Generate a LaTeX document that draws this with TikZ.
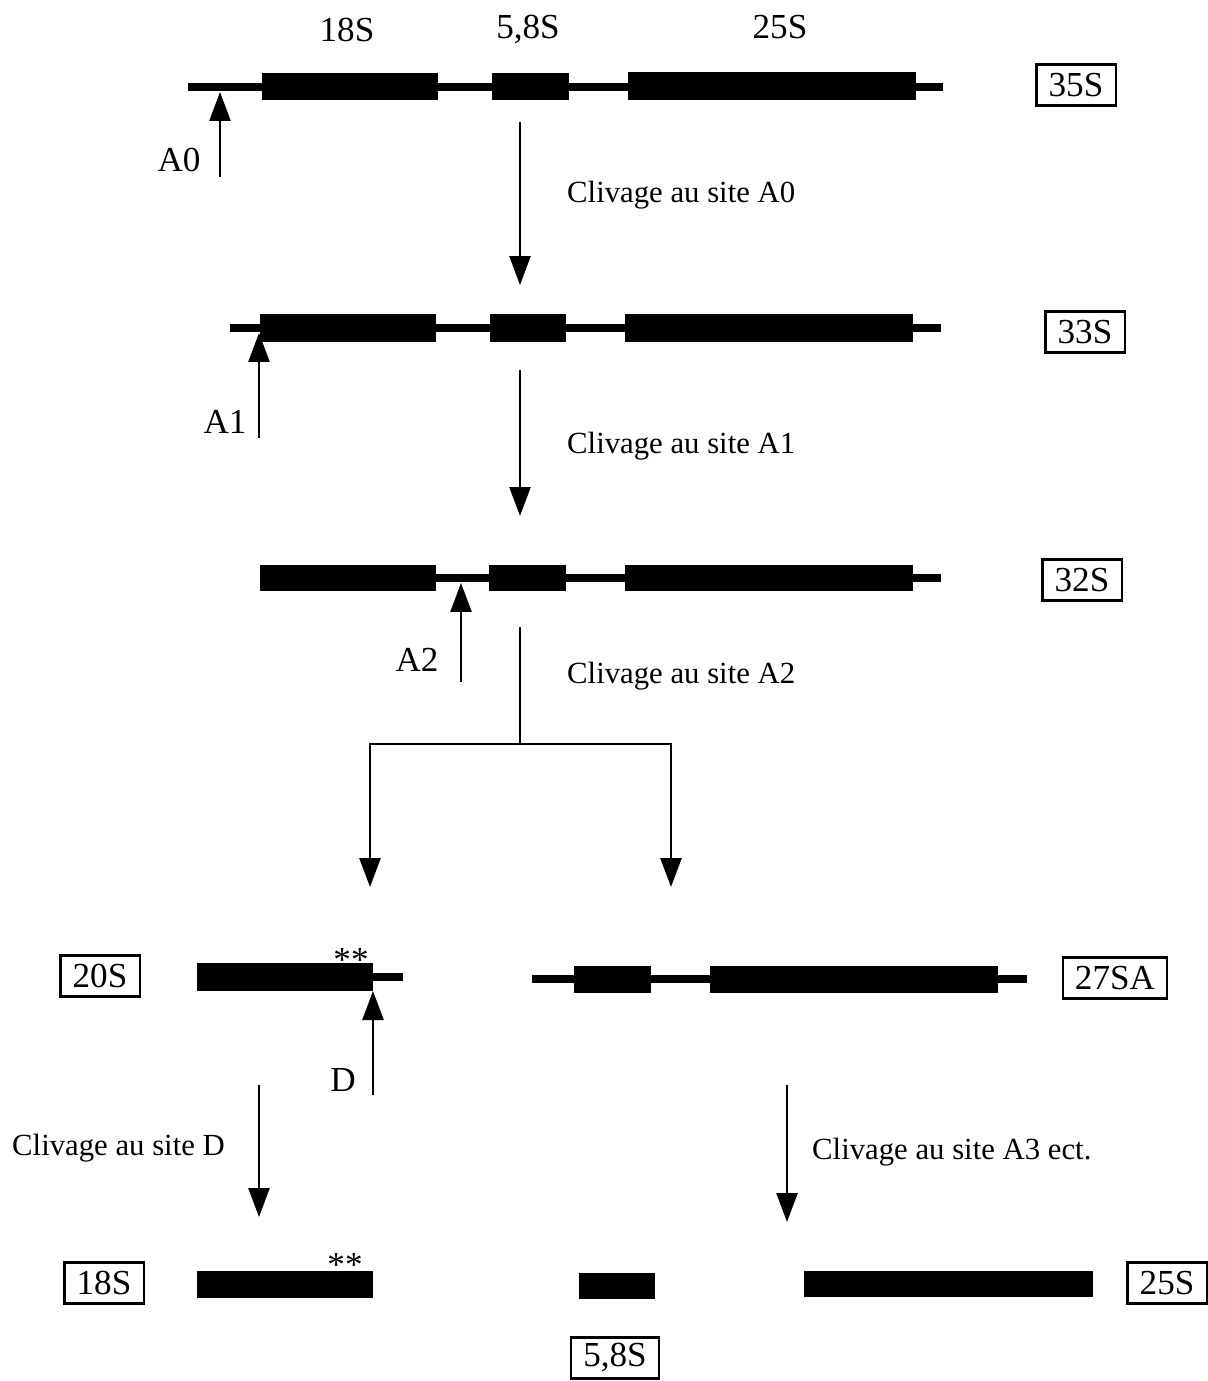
\documentclass[tikz,border=0pt]{standalone}
\usepackage{fontspec}
\setmainfont{Liberation Serif}
\usetikzlibrary{arrows.meta}

\begin{document}
\begin{tikzpicture}[x=0.02cm, y=-0.02cm,
        >={Triangle[length=0.58cm, width=0.42cm]},
        font=\fontsize{20}{24}\selectfont,
        spacer/.style={line width=5pt},
        cut/.style={line width=1.5pt, ->},
        tag/.style={draw, line width=1.3pt, inner xsep=7pt, minimum height=0.82cm},
        steplabel/.style={anchor=west, font=\fontsize{17.5}{21}\selectfont}]
    \useasboundingbox (0,0) rectangle (1207,1381);

    % 35S precursor
    \node (n18) at (347,30) {18S};
    \node (n58) at (528,30) {5,8S};
    \node (n25) at (780,27) {25S};
    \draw[spacer] (188,87) -- (943,87);
    \fill (262,73) rectangle (438,100);
    \fill (492,73) rectangle (569,100);
    \fill (628,72) rectangle (916,100);
    \node[tag] (p35) at (1076,85) {35S};

    \coordinate (A0) at (220,92);
    \coordinate (A0foot) at (220,177);
    \draw[cut] (A0foot) -- (A0);
    \node (A0lab) at (179,160) {A0};

    \coordinate (s1) at (520,122);
    \coordinate (e1) at (520,285);
    \draw[cut] (s1) -- (e1);
    \node[steplabel] (c1) at (561,195) {Clivage au site A0};

    % 33S precursor
    \draw[spacer] (230,328) -- (941,328);
    \fill (260,314) rectangle (436,342);
    \fill (490,314) rectangle (566,342);
    \fill (625,314) rectangle (913,342);
    \node[tag] (p33) at (1085,332) {33S};

    \coordinate (A1) at (259,333);
    \coordinate (A1foot) at (259,438);
    \draw[cut] (A1foot) -- (A1);
    \node (A1lab) at (225,422) {A1};

    \coordinate (s2) at (520,370);
    \coordinate (e2) at (520,516);
    \draw[cut] (s2) -- (e2);
    \node[steplabel] (c2) at (561,446) {Clivage au site A1};

    % 32S precursor
    \draw[spacer] (260,578) -- (941,578);
    \fill (260,565) rectangle (436,591);
    \fill (489,565) rectangle (566,591);
    \fill (625,565) rectangle (913,591);
    \node[tag] (p32) at (1082,580) {32S};

    \coordinate (A2) at (461,583);
    \coordinate (A2foot) at (461,682);
    \draw[cut] (A2foot) -- (A2);
    \node (A2lab) at (417,660) {A2};

    \coordinate (s3) at (520,627);
    \coordinate (fork) at (520,744);
    \coordinate (forkL) at (370,744);
    \coordinate (forkR) at (671,744);
    \coordinate (eL) at (370,887);
    \coordinate (eR) at (671,887);
    \draw[line width=1.5pt] (s3) -- (fork);
    \draw[cut] (fork) -- (forkL) -- (eL);
    \draw[cut] (fork) -- (forkR) -- (eR);
    \node[steplabel] (c3) at (561,676) {Clivage au site A2};

    % 20S and 27SA
    \node[tag] (p20) at (100,976) {20S};
    \draw[spacer] (373,977) -- (403,977);
    \fill (197,963) rectangle (373,991);
    \node (st20) at (351,960) {**};

    \coordinate (D) at (373,991);
    \coordinate (Dfoot) at (373,1095);
    \draw[cut] (Dfoot) -- (D);
    \node (Dlab) at (343,1080) {D};

    \draw[spacer] (532,979) -- (1027,979);
    \fill (574,966) rectangle (651,993);
    \fill (710,966) rectangle (998,993);
    \node[tag] (p27) at (1115,978) {27SA};

    \coordinate (s4) at (259,1085);
    \coordinate (e4) at (259,1217);
    \draw[cut] (s4) -- (e4);
    \node[steplabel] (c4) at (6,1148) {Clivage au site D};

    \coordinate (s5) at (787,1085);
    \coordinate (e5) at (787,1222);
    \draw[cut] (s5) -- (e5);
    \node[steplabel] (c5) at (806,1152) {Clivage au site A3 ect.};

    % mature rRNAs
    \node[tag] (m18) at (104,1283) {18S};
    \fill (197,1271) rectangle (373,1298);
    \node (st18) at (345,1265) {**};

    \fill (579,1273) rectangle (655,1299);
    \node[tag] (m58) at (615,1358) {5,8S};

    \fill (804,1271) rectangle (1093,1297);
    \node[tag] (m25) at (1167,1283) {25S};
\end{tikzpicture}
\end{document}
